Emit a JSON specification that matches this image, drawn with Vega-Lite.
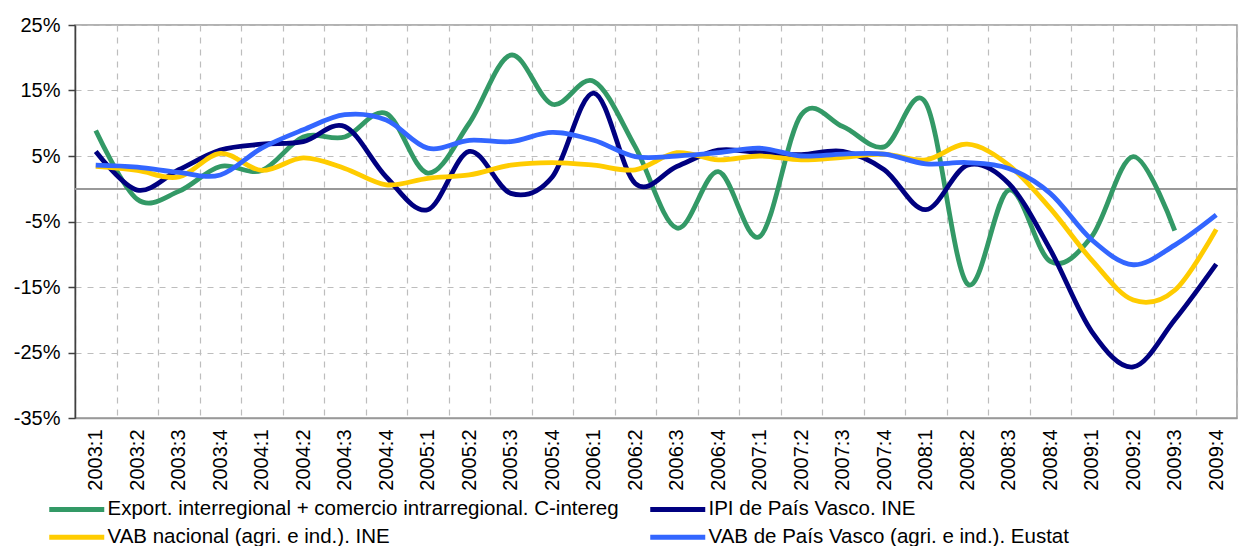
{
  "$schema": "https://vega.github.io/schema/vega-lite/v6.json",
  "width": 1162,
  "height": 393,
  "autosize": {"type": "none"},
  "padding": {"left": 75, "top": 25, "right": 3, "bottom": 128},
  "background": "#ffffff",
  "config": {
    "font": "Liberation Sans",
    "view": {"stroke": "#999999", "strokeWidth": 1.5},
    "axis": {"labelFont": "Liberation Sans", "labelColor": "#000000"}
  },
  "data": {
    "values": [
      {"q": "2003:1", "s": "Export. interregional + comercio intrarregional. C-intereg", "v": 8.9},
      {"q": "2003:2", "s": "Export. interregional + comercio intrarregional. C-intereg", "v": -1.6},
      {"q": "2003:3", "s": "Export. interregional + comercio intrarregional. C-intereg", "v": -0.4},
      {"q": "2003:4", "s": "Export. interregional + comercio intrarregional. C-intereg", "v": 3.4},
      {"q": "2004:1", "s": "Export. interregional + comercio intrarregional. C-intereg", "v": 2.8},
      {"q": "2004:2", "s": "Export. interregional + comercio intrarregional. C-intereg", "v": 7.9},
      {"q": "2004:3", "s": "Export. interregional + comercio intrarregional. C-intereg", "v": 7.9},
      {"q": "2004:4", "s": "Export. interregional + comercio intrarregional. C-intereg", "v": 11.5},
      {"q": "2005:1", "s": "Export. interregional + comercio intrarregional. C-intereg", "v": 2.4},
      {"q": "2005:2", "s": "Export. interregional + comercio intrarregional. C-intereg", "v": 10.0},
      {"q": "2005:3", "s": "Export. interregional + comercio intrarregional. C-intereg", "v": 20.4},
      {"q": "2005:4", "s": "Export. interregional + comercio intrarregional. C-intereg", "v": 12.9},
      {"q": "2006:1", "s": "Export. interregional + comercio intrarregional. C-intereg", "v": 16.4},
      {"q": "2006:2", "s": "Export. interregional + comercio intrarregional. C-intereg", "v": 6.4},
      {"q": "2006:3", "s": "Export. interregional + comercio intrarregional. C-intereg", "v": -6.0},
      {"q": "2006:4", "s": "Export. interregional + comercio intrarregional. C-intereg", "v": 2.6},
      {"q": "2007:1", "s": "Export. interregional + comercio intrarregional. C-intereg", "v": -7.3},
      {"q": "2007:2", "s": "Export. interregional + comercio intrarregional. C-intereg", "v": 11.3},
      {"q": "2007:3", "s": "Export. interregional + comercio intrarregional. C-intereg", "v": 9.5},
      {"q": "2007:4", "s": "Export. interregional + comercio intrarregional. C-intereg", "v": 6.4},
      {"q": "2008:1", "s": "Export. interregional + comercio intrarregional. C-intereg", "v": 13.1},
      {"q": "2008:2", "s": "Export. interregional + comercio intrarregional. C-intereg", "v": -14.5},
      {"q": "2008:3", "s": "Export. interregional + comercio intrarregional. C-intereg", "v": -0.2},
      {"q": "2008:4", "s": "Export. interregional + comercio intrarregional. C-intereg", "v": -11.1},
      {"q": "2009:1", "s": "Export. interregional + comercio intrarregional. C-intereg", "v": -7.3},
      {"q": "2009:2", "s": "Export. interregional + comercio intrarregional. C-intereg", "v": 4.9},
      {"q": "2009:3", "s": "Export. interregional + comercio intrarregional. C-intereg", "v": -6.4},

      {"q": "2003:1", "s": "IPI de País Vasco. INE", "v": 5.7},
      {"q": "2003:2", "s": "IPI de País Vasco. INE", "v": -0.2},
      {"q": "2003:3", "s": "IPI de País Vasco. INE", "v": 2.9},
      {"q": "2003:4", "s": "IPI de País Vasco. INE", "v": 5.9},
      {"q": "2004:1", "s": "IPI de País Vasco. INE", "v": 6.8},
      {"q": "2004:2", "s": "IPI de País Vasco. INE", "v": 7.2},
      {"q": "2004:3", "s": "IPI de País Vasco. INE", "v": 9.5},
      {"q": "2004:4", "s": "IPI de País Vasco. INE", "v": 1.8},
      {"q": "2005:1", "s": "IPI de País Vasco. INE", "v": -3.2},
      {"q": "2005:2", "s": "IPI de País Vasco. INE", "v": 5.7},
      {"q": "2005:3", "s": "IPI de País Vasco. INE", "v": -0.7},
      {"q": "2005:4", "s": "IPI de País Vasco. INE", "v": 1.8},
      {"q": "2006:1", "s": "IPI de País Vasco. INE", "v": 14.6},
      {"q": "2006:2", "s": "IPI de País Vasco. INE", "v": 0.8},
      {"q": "2006:3", "s": "IPI de País Vasco. INE", "v": 3.4},
      {"q": "2006:4", "s": "IPI de País Vasco. INE", "v": 5.9},
      {"q": "2007:1", "s": "IPI de País Vasco. INE", "v": 5.5},
      {"q": "2007:2", "s": "IPI de País Vasco. INE", "v": 5.2},
      {"q": "2007:3", "s": "IPI de País Vasco. INE", "v": 5.7},
      {"q": "2007:4", "s": "IPI de País Vasco. INE", "v": 2.9},
      {"q": "2008:1", "s": "IPI de País Vasco. INE", "v": -3.2},
      {"q": "2008:2", "s": "IPI de País Vasco. INE", "v": 3.6},
      {"q": "2008:3", "s": "IPI de País Vasco. INE", "v": 0.8},
      {"q": "2008:4", "s": "IPI de País Vasco. INE", "v": -9.3},
      {"q": "2009:1", "s": "IPI de País Vasco. INE", "v": -21.8},
      {"q": "2009:2", "s": "IPI de País Vasco. INE", "v": -27.2},
      {"q": "2009:3", "s": "IPI de País Vasco. INE", "v": -20.0},
      {"q": "2009:4", "s": "IPI de País Vasco. INE", "v": -11.5},

      {"q": "2003:1", "s": "VAB nacional (agri. e ind.). INE", "v": 3.4},
      {"q": "2003:2", "s": "VAB nacional (agri. e ind.). INE", "v": 2.8},
      {"q": "2003:3", "s": "VAB nacional (agri. e ind.). INE", "v": 1.8},
      {"q": "2003:4", "s": "VAB nacional (agri. e ind.). INE", "v": 5.4},
      {"q": "2004:1", "s": "VAB nacional (agri. e ind.). INE", "v": 2.8},
      {"q": "2004:2", "s": "VAB nacional (agri. e ind.). INE", "v": 4.7},
      {"q": "2004:3", "s": "VAB nacional (agri. e ind.). INE", "v": 3.1},
      {"q": "2004:4", "s": "VAB nacional (agri. e ind.). INE", "v": 0.6},
      {"q": "2005:1", "s": "VAB nacional (agri. e ind.). INE", "v": 1.6},
      {"q": "2005:2", "s": "VAB nacional (agri. e ind.). INE", "v": 2.1},
      {"q": "2005:3", "s": "VAB nacional (agri. e ind.). INE", "v": 3.6},
      {"q": "2005:4", "s": "VAB nacional (agri. e ind.). INE", "v": 4.0},
      {"q": "2006:1", "s": "VAB nacional (agri. e ind.). INE", "v": 3.6},
      {"q": "2006:2", "s": "VAB nacional (agri. e ind.). INE", "v": 2.9},
      {"q": "2006:3", "s": "VAB nacional (agri. e ind.). INE", "v": 5.5},
      {"q": "2006:4", "s": "VAB nacional (agri. e ind.). INE", "v": 4.4},
      {"q": "2007:1", "s": "VAB nacional (agri. e ind.). INE", "v": 5.0},
      {"q": "2007:2", "s": "VAB nacional (agri. e ind.). INE", "v": 4.4},
      {"q": "2007:3", "s": "VAB nacional (agri. e ind.). INE", "v": 4.8},
      {"q": "2007:4", "s": "VAB nacional (agri. e ind.). INE", "v": 5.3},
      {"q": "2008:1", "s": "VAB nacional (agri. e ind.). INE", "v": 4.4},
      {"q": "2008:2", "s": "VAB nacional (agri. e ind.). INE", "v": 6.8},
      {"q": "2008:3", "s": "VAB nacional (agri. e ind.). INE", "v": 3.6},
      {"q": "2008:4", "s": "VAB nacional (agri. e ind.). INE", "v": -3.0},
      {"q": "2009:1", "s": "VAB nacional (agri. e ind.). INE", "v": -10.9},
      {"q": "2009:2", "s": "VAB nacional (agri. e ind.). INE", "v": -17.0},
      {"q": "2009:3", "s": "VAB nacional (agri. e ind.). INE", "v": -15.5},
      {"q": "2009:4", "s": "VAB nacional (agri. e ind.). INE", "v": -6.2},

      {"q": "2003:1", "s": "VAB de País Vasco (agri. e ind.). Eustat", "v": 3.6},
      {"q": "2003:2", "s": "VAB de País Vasco (agri. e ind.). Eustat", "v": 3.3},
      {"q": "2003:3", "s": "VAB de País Vasco (agri. e ind.). Eustat", "v": 2.5},
      {"q": "2003:4", "s": "VAB de País Vasco (agri. e ind.). Eustat", "v": 2.1},
      {"q": "2004:1", "s": "VAB de País Vasco (agri. e ind.). Eustat", "v": 6.2},
      {"q": "2004:2", "s": "VAB de País Vasco (agri. e ind.). Eustat", "v": 9.0},
      {"q": "2004:3", "s": "VAB de País Vasco (agri. e ind.). Eustat", "v": 11.3},
      {"q": "2004:4", "s": "VAB de País Vasco (agri. e ind.). Eustat", "v": 10.5},
      {"q": "2005:1", "s": "VAB de País Vasco (agri. e ind.). Eustat", "v": 6.2},
      {"q": "2005:2", "s": "VAB de País Vasco (agri. e ind.). Eustat", "v": 7.4},
      {"q": "2005:3", "s": "VAB de País Vasco (agri. e ind.). Eustat", "v": 7.2},
      {"q": "2005:4", "s": "VAB de País Vasco (agri. e ind.). Eustat", "v": 8.6},
      {"q": "2006:1", "s": "VAB de País Vasco (agri. e ind.). Eustat", "v": 7.4},
      {"q": "2006:2", "s": "VAB de País Vasco (agri. e ind.). Eustat", "v": 4.9},
      {"q": "2006:3", "s": "VAB de País Vasco (agri. e ind.). Eustat", "v": 5.0},
      {"q": "2006:4", "s": "VAB de País Vasco (agri. e ind.). Eustat", "v": 5.5},
      {"q": "2007:1", "s": "VAB de País Vasco (agri. e ind.). Eustat", "v": 6.2},
      {"q": "2007:2", "s": "VAB de País Vasco (agri. e ind.). Eustat", "v": 5.0},
      {"q": "2007:3", "s": "VAB de País Vasco (agri. e ind.). Eustat", "v": 5.3},
      {"q": "2007:4", "s": "VAB de País Vasco (agri. e ind.). Eustat", "v": 5.3},
      {"q": "2008:1", "s": "VAB de País Vasco (agri. e ind.). Eustat", "v": 3.8},
      {"q": "2008:2", "s": "VAB de País Vasco (agri. e ind.). Eustat", "v": 4.0},
      {"q": "2008:3", "s": "VAB de País Vasco (agri. e ind.). Eustat", "v": 3.1},
      {"q": "2008:4", "s": "VAB de País Vasco (agri. e ind.). Eustat", "v": -0.7},
      {"q": "2009:1", "s": "VAB de País Vasco (agri. e ind.). Eustat", "v": -7.8},
      {"q": "2009:2", "s": "VAB de País Vasco (agri. e ind.). Eustat", "v": -11.6},
      {"q": "2009:3", "s": "VAB de País Vasco (agri. e ind.). Eustat", "v": -8.6},
      {"q": "2009:4", "s": "VAB de País Vasco (agri. e ind.). Eustat", "v": -4.0}
    ]
  },
  "layer": [
    {
      "mark": {"type": "rule", "color": "#999999", "strokeWidth": 1.5},
      "encoding": {"y": {"datum": 0, "type": "quantitative"}}
    },
    {
      "mark": {"type": "line", "interpolate": "cardinal", "strokeWidth": 4.8, "clip": true},
      "encoding": {
        "x": {
          "field": "q",
          "type": "ordinal",
          "bandPosition": 0.5,
          "scale": {"type": "band", "paddingInner": 0, "paddingOuter": 0},
          "axis": {
            "title": null,
            "labelAngle": 270,
            "labelAlign": "right",
            "labelBaseline": "middle",
            "labelFontSize": 20,
            "labelPadding": 11,
            "ticks": false,
            "tickBand": "extent",
            "grid": true,
            "gridColor": "#bdbdbd",
            "gridDash": [6, 6],
            "gridWidth": 1.2,
            "domainColor": "#999999",
            "domainWidth": 1.5
          }
        },
        "y": {
          "field": "v",
          "type": "quantitative",
          "scale": {"domain": [-35, 25], "nice": false, "zero": false},
          "axis": {
            "title": null,
            "values": [-35, -25, -15, -5, 5, 15, 25],
            "labelExpr": "datum.value + '%'",
            "labelFontSize": 20,
            "labelPadding": 8,
            "tickSize": 7,
            "tickColor": "#404040",
            "tickWidth": 1.5,
            "domainColor": "#404040",
            "domainWidth": 1.5,
            "grid": true,
            "gridColor": "#bdbdbd",
            "gridDash": [6, 6],
            "gridWidth": 1.2
          }
        },
        "color": {
          "field": "s",
          "type": "nominal",
          "scale": {
            "domain": [
              "Export. interregional + comercio intrarregional. C-intereg",
              "IPI de País Vasco. INE",
              "VAB nacional (agri. e ind.). INE",
              "VAB de País Vasco (agri. e ind.). Eustat"
            ],
            "range": ["#339966", "#000080", "#ffcc00", "#3366ff"]
          },
          "legend": {
            "title": null,
            "orient": "none",
            "direction": "horizontal",
            "legendX": -8.5,
            "legendY": 474,
            "columns": 2,
            "columnPadding": 20,
            "rowPadding": 7,
            "padding": 0,
            "symbolType": "M-5.5,0H5.5",
            "symbolSize": 100,
            "symbolStrokeWidth": 5,
            "labelFontSize": 20.5,
            "labelFont": "Liberation Sans",
            "labelColor": "#000000",
            "labelOffset": 20.5,
            "labelLimit": 0
          }
        }
      }
    }
  ]
}
